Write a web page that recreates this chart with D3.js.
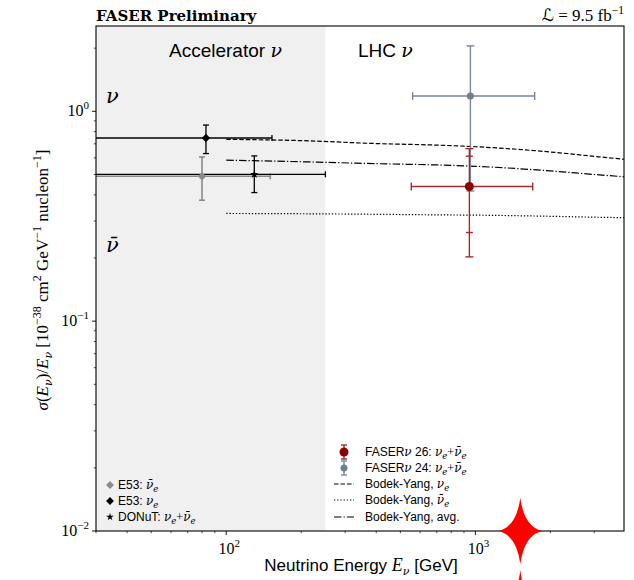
<!DOCTYPE html>
<html><head><meta charset="utf-8">
<script src="https://cdn.jsdelivr.net/npm/d3@7"></script>
<style>body{margin:0;background:#fff}svg{display:block}</style>
</head><body>
<script>
// ---------------- data ----------------
const xDomain = [30, 3950];
const yDomain = [0.01, 2.55];
const acceleratorEdge = 250; // GeV, end of accelerator region

// accelerator measurements (E53 anti-nu_e, E53 nu_e, DONuT)
const accelNames = ["E53 nubar", "E53 nu", "DONuT"];
const accelEnergy = [79.9, 82.9, 129.6];
const accelEnergyLow = [20, 20, 20];
const accelEnergyHigh = [150.2, 152.6, 250];
const accelValue = [0.490, 0.746, 0.501];
const accelErrLow = [0.377, 0.629, 0.41];
const accelErrHigh = [0.606, 0.860, 0.613];

// FASERnu measurements (26, 24)
const faserNames = ["FASERν 26", "FASERν 24"];
const faserEnergy = [946, 955];
const faserEnergyLow = [553, 560];
const faserEnergyHigh = [1699, 1730];
const faserValue = [0.438, 1.183];
const faserTotLow = [0.2024, 0.417];
const faserTotHigh = [0.664, 2.05];
const faserStatLow = [0.2645, null];
const faserStatHigh = [0.611, null];

// Bodek-Yang predictions
const byEnergy = [100, 200, 400, 700, 1000, 2000, 3000, 4000];
const byNu = [0.735, 0.725, 0.702, 0.69, 0.678, 0.64, 0.61, 0.59];
const byNuBar = [0.326, 0.325, 0.323, 0.321, 0.320, 0.316, 0.313, 0.311];
const byAvg = [0.585, 0.575, 0.563, 0.555, 0.547, 0.52, 0.50, 0.487];

const xMajorTicks = [100, 1000];
const yMajorTicks = [1, 0.1, 0.01];
const xTickExp = ["2", "3"];
const yTickExp = ["0", "−1", "−2"];

// -------------- layout --------------
const W = 634, H = 580;
const m = {l: 96, r: 10, t: 26, b: 49};
const svg = d3.select("body").append("svg").attr("width", W).attr("height", H);
const x = d3.scaleLog().domain(xDomain).range([m.l, W - m.r]);
const y = d3.scaleLog().domain(yDomain).range([H - m.b, m.t]);
const sans = "'Liberation Sans', 'DejaVu Sans', sans-serif";
const mathF = "'Liberation Serif', 'DejaVu Serif', serif";
const greekF = "'DejaVu Serif', serif";
const LF = 12; // legend font size

svg.append("defs").append("clipPath").attr("id", "clip")
  .append("rect").attr("x", m.l).attr("y", m.t)
  .attr("width", W - m.l - m.r).attr("height", H - m.t - m.b);

// shaded accelerator region
svg.append("rect").attr("x", x(xDomain[0])).attr("y", y(yDomain[1]))
  .attr("width", x(acceleratorEdge) - x(xDomain[0]))
  .attr("height", y(yDomain[0]) - y(yDomain[1]))
  .attr("fill", "#f0f0f0");

const plot = svg.append("g").attr("clip-path", "url(#clip)");

// Bodek-Yang lines
const line = d3.line().x(d => x(d[0])).y(d => y(d[1])).curve(d3.curveMonotoneX);
const byStyles = [
  {vals: byNu, dash: "4.5,2"},
  {vals: byNuBar, dash: "1.3,1.9"},
  {vals: byAvg, dash: "7.5,2,1.3,2"}
];
byStyles.forEach(s => {
  plot.append("path").datum(byEnergy.map((e, i) => [e, s.vals[i]]))
    .attr("d", line).attr("fill", "none").attr("stroke", "#000")
    .attr("stroke-width", 1.2).attr("stroke-dasharray", s.dash);
});

// error bar helper
function errbar(g, ex, elo, ehi, v, vlo, vhi, color, cap, sw) {
  g.append("line").attr("x1", x(elo)).attr("x2", x(ehi)).attr("y1", y(v)).attr("y2", y(v))
    .attr("stroke", color).attr("stroke-width", sw);
  g.append("line").attr("x1", x(ex)).attr("x2", x(ex)).attr("y1", y(vlo)).attr("y2", y(vhi))
    .attr("stroke", color).attr("stroke-width", sw);
  [vlo, vhi].forEach(vv => g.append("line").attr("x1", x(ex) - cap).attr("x2", x(ex) + cap)
    .attr("y1", y(vv)).attr("y2", y(vv)).attr("stroke", color).attr("stroke-width", sw));
  [elo, ehi].forEach(ee => g.append("line").attr("x1", x(ee)).attr("x2", x(ee))
    .attr("y1", y(v) - cap).attr("y2", y(v) + cap).attr("stroke", color).attr("stroke-width", sw));
}

const accelColors = ["#8a8a8a", "#000", "#000"];
function marker(i, s) {
  if (i === 2) return d3.symbol().type(d3.symbolStar).size(s)();
  const h = Math.sqrt(s) / 1.2;
  return `M0,${-h}L${h},0L0,${h}L${-h},0Z`;
}
[0, 1, 2].forEach(i => {
  errbar(plot, accelEnergy[i], accelEnergyLow[i], accelEnergyHigh[i], accelValue[i],
    accelErrLow[i], accelErrHigh[i], accelColors[i], 3, i === 0 ? 1.6 : 1.3);
});
[0, 1, 2].forEach(i => {
  plot.append("path").attr("d", marker(i, i === 2 ? 22 : 26))
    .attr("transform", `translate(${x(accelEnergy[i])},${y(accelValue[i])})`)
    .attr("fill", accelColors[i]);
});

// FASER points
const faserColors = ["#a52a2a", "#778899"];
const faserDot = ["#8b0000", "#708090"];
const faserR = [4.5, 3.5];
[1, 0].forEach(i => {
  errbar(plot, faserEnergy[i], faserEnergyLow[i], faserEnergyHigh[i], faserValue[i],
    faserTotLow[i], faserTotHigh[i], faserColors[i], 4, 1.4);
  if (faserStatLow[i] !== null) {
    [faserStatLow[i], faserStatHigh[i]].forEach(vv => plot.append("line")
      .attr("x1", x(faserEnergy[i]) - 3.5).attr("x2", x(faserEnergy[i]) + 3.5)
      .attr("y1", y(vv)).attr("y2", y(vv)).attr("stroke", faserColors[i]).attr("stroke-width", 1.4));
  }
  plot.append("circle").attr("cx", x(faserEnergy[i])).attr("cy", y(faserValue[i]))
    .attr("r", faserR[i]).attr("fill", faserDot[i]);
});

// frame
svg.append("rect").attr("x", m.l).attr("y", m.t).attr("width", W - m.l - m.r)
  .attr("height", H - m.t - m.b).attr("fill", "none").attr("stroke", "#000").attr("stroke-width", 1.1);

// axes ticks
const yAx = svg.append("g");
const xAx = svg.append("g");
const x0 = m.l, yB = H - m.b;
function minorList(dom) {
  const out = [];
  for (let p = -3; p <= 4; p++) for (let k = 1; k < 10; k++) {
    const v = k * Math.pow(10, p);
    if (v >= dom[0] * 0.999 && v <= dom[1] * 1.001) out.push(v);
  }
  return out;
}
minorList(yDomain).forEach(v => {
  const major = yMajorTicks.some(t => Math.abs(t - v) / t < 1e-6);
  yAx.append("line").attr("x1", x0).attr("x2", x0 - (major ? 4 : 2.2))
    .attr("y1", y(v)).attr("y2", y(v)).attr("stroke", "#000").attr("stroke-width", major ? 0.9 : 0.7);
});
minorList(xDomain).forEach(v => {
  const major = xMajorTicks.some(t => Math.abs(t - v) / t < 1e-6);
  xAx.append("line").attr("x1", x(v)).attr("x2", x(v)).attr("y1", yB).attr("y2", yB + (major ? 4 : 2.2))
    .attr("stroke", "#000").attr("stroke-width", major ? 0.9 : 0.7);
});
yMajorTicks.forEach((t, i) => {
  const tx = yAx.append("text").attr("x", x0 - 7).attr("y", y(t) + 5)
    .attr("text-anchor", "end").attr("font-family", mathF).attr("font-size", 16);
  tx.append("tspan").text("10");
  tx.append("tspan").attr("dy", -7).attr("font-size", 11).text(yTickExp[i]);
});
xMajorTicks.forEach((t, i) => {
  const tx = xAx.append("text").attr("x", x(t) + 3).attr("y", yB + 23)
    .attr("text-anchor", "middle").attr("font-family", mathF).attr("font-size", 16);
  tx.append("tspan").text("10");
  tx.append("tspan").attr("dy", -7).attr("font-size", 11).text(xTickExp[i]);
});

// axis labels
const xl = svg.append("text").attr("x", 361).attr("y", 571).attr("text-anchor", "middle")
  .attr("font-family", sans).attr("font-size", 17);
xl.append("tspan").text("Neutrino Energy ");
xl.append("tspan").attr("font-family", mathF).attr("font-style", "italic").attr("font-size", 18).text("E");
xl.append("tspan").attr("font-family", greekF).attr("font-style", "italic").attr("font-size", 11).attr("dy", 4).text("ν");
xl.append("tspan").attr("dy", -4).text(" [GeV]");

const yl = svg.append("text").attr("transform", "translate(48,280) rotate(-90)")
  .attr("text-anchor", "middle").attr("font-family", mathF).attr("font-size", 17);
const parts = [
  ["σ", 0, "i", 17, mathF], ["(", 0, "n", 17], ["E", 0, "i", 17], ["ν", 4, "i", 11, greekF], [")/", -4, "n", 17],
  ["E", 0, "i", 17], ["ν", 4, "i", 11, greekF], [" [10", -4, "n", 17], ["−38", -7, "n", 12],
  [" cm", 7, "n", 17], ["2", -7, "n", 12], [" GeV", 7, "n", 17], ["−1", -7, "n", 12],
  [" nucleon", 7, "n", 17], ["−1", -7, "n", 12], ["]", 7, "n", 17]
];
parts.forEach(p => {
  const ts = yl.append("tspan").attr("dy", p[1]).attr("font-style", p[2] === "i" ? "italic" : "normal")
    .attr("font-size", p[3]).text(p[0]);
  if (p[4]) ts.attr("font-family", p[4]);
});

// header
svg.append("text").attr("x", 96).attr("y", 21).attr("font-family", "'DejaVu Serif', serif")
  .attr("font-weight", "bold").attr("font-size", 15).text("FASER Preliminary");
const lum = svg.append("text").attr("x", 624).attr("y", 21).attr("text-anchor", "end")
  .attr("font-family", "'Liberation Serif', serif").attr("font-size", 17);
lum.append("tspan").attr("font-family", "'DejaVu Sans', sans-serif").attr("font-style", "italic").text("ℒ");
lum.append("tspan").text(" = 9.5 fb");
lum.append("tspan").attr("dy", -7).attr("font-size", 11.5).text("−1");

// region labels
svg.append("text").attr("x", 169).attr("y", 57).attr("font-family", sans).attr("font-size", 19)
  .text("Accelerator ").append("tspan").attr("font-family", greekF).attr("font-style", "italic").attr("font-size", 19).text("ν");
svg.append("text").attr("x", 358).attr("y", 57).attr("font-family", sans).attr("font-size", 19)
  .text("LHC ").append("tspan").attr("font-family", greekF).attr("font-style", "italic").attr("font-size", 19).text("ν");
svg.append("text").attr("x", 106).attr("y", 103).attr("font-family", greekF).attr("font-style", "italic")
  .attr("font-size", 21).text("ν");
svg.append("text").attr("x", 106).attr("y", 252).attr("font-family", greekF).attr("font-style", "italic")
  .attr("font-size", 21).text("ν̄");

// legend label helper
function addMath(t, items) {
  items.forEach(it => t.append("tspan").attr("font-family", it[2] ? greekF : mathF)
    .attr("font-style", it[2] ? "italic" : "normal")
    .attr("font-size", it[3] || LF).attr("dy", it[1]).text(it[0]));
}
function mathLabel(g, xp, yp, pre, items) {
  const t = g.append("text").attr("x", xp).attr("y", yp).attr("font-family", sans).attr("font-size", LF);
  t.append("tspan").text(pre);
  addMath(t, items);
  return t;
}
const lg = svg.append("g");
const leftRows = [489, 505, 521];
const leftLabels = [
  ["E53: ", [["ν̄", 0, true], ["e", 3, true, 8.5], ["", -3, false]]],
  ["E53: ", [["ν", 0, true], ["e", 3, true, 8.5], ["", -3, false]]],
  ["DONuT: ", [["ν", 0, true], ["e", 3, true, 8.5], ["+", -3, false], ["ν̄", 0, true], ["e", 3, true, 8.5]]]
];
[0, 1, 2].forEach((i, r) => {
  lg.append("path").attr("d", marker(i, i === 2 ? 18 : 22))
    .attr("transform", `translate(110,${leftRows[r] - 4})`).attr("fill", accelColors[i]);
  mathLabel(lg, 118, leftRows[r], leftLabels[i][0], leftLabels[i][1]);
});

// right legend
const rg = svg.append("g");
const rRows = [456, 472, 488, 504, 521];
const nuSum = [["ν", 0, true], ["e", 3, true, 8.5], ["+", -3, false], ["ν̄", 0, true], ["e", 3, true, 8.5]];
[0, 1].forEach(i => {
  const cy = rRows[i] - 4;
  rg.append("line").attr("x1", 344).attr("x2", 344).attr("y1", cy - 7).attr("y2", cy + 7)
    .attr("stroke", faserColors[i]).attr("stroke-width", 1.4);
  [cy - 7, cy + 7].forEach(yy => rg.append("line").attr("x1", 341).attr("x2", 347).attr("y1", yy).attr("y2", yy)
    .attr("stroke", faserColors[i]).attr("stroke-width", 1.4));
  rg.append("circle").attr("cx", 344).attr("cy", cy).attr("r", faserR[i]).attr("fill", faserDot[i]);
  const t = mathLabel(rg, 365, rRows[i], "FASER", []);
  t.append("tspan").attr("font-family", greekF).attr("font-style", "italic").text("ν");
  t.append("tspan").text(faserNames[i].replace("FASERν", "") + ": ");
  addMath(t, nuSum);
});
const byLabels = [
  [["ν", 0, true], ["e", 3, true, 8.5]],
  [["ν̄", 0, true], ["e", 3, true, 8.5]],
  []
];
const byTexts = ["Bodek-Yang, ", "Bodek-Yang, ", "Bodek-Yang, avg."];
byStyles.forEach((s, k) => {
  const yy = rRows[k + 2] - 4;
  rg.append("line").attr("x1", 334).attr("x2", 354).attr("y1", yy).attr("y2", yy)
    .attr("stroke", "#000").attr("stroke-width", 1.2).attr("stroke-dasharray", s.dash);
  mathLabel(rg, 365, rRows[k + 2], byTexts[k], byLabels[k]);
});

// red star decorations (as in the reference image)
function star4(sx, sy) {
  return `M0,${-sy} Q4,-4 ${sx},0 Q4,4 0,${sy} Q-4,4 ${-sx},0 Q-4,-4 0,${-sy}Z`;
}
svg.append("path").attr("d", star4(22, 33)).attr("fill", "#ff0000")
  .attr("transform", `translate(${x(1515)},${y(0.01)})`);
svg.append("path").attr("d", star4(26, 40)).attr("fill", "#ff0000")
  .attr("transform", `translate(${x(1515)},${y(0.01) + 79})`);
</script>
</body></html>
